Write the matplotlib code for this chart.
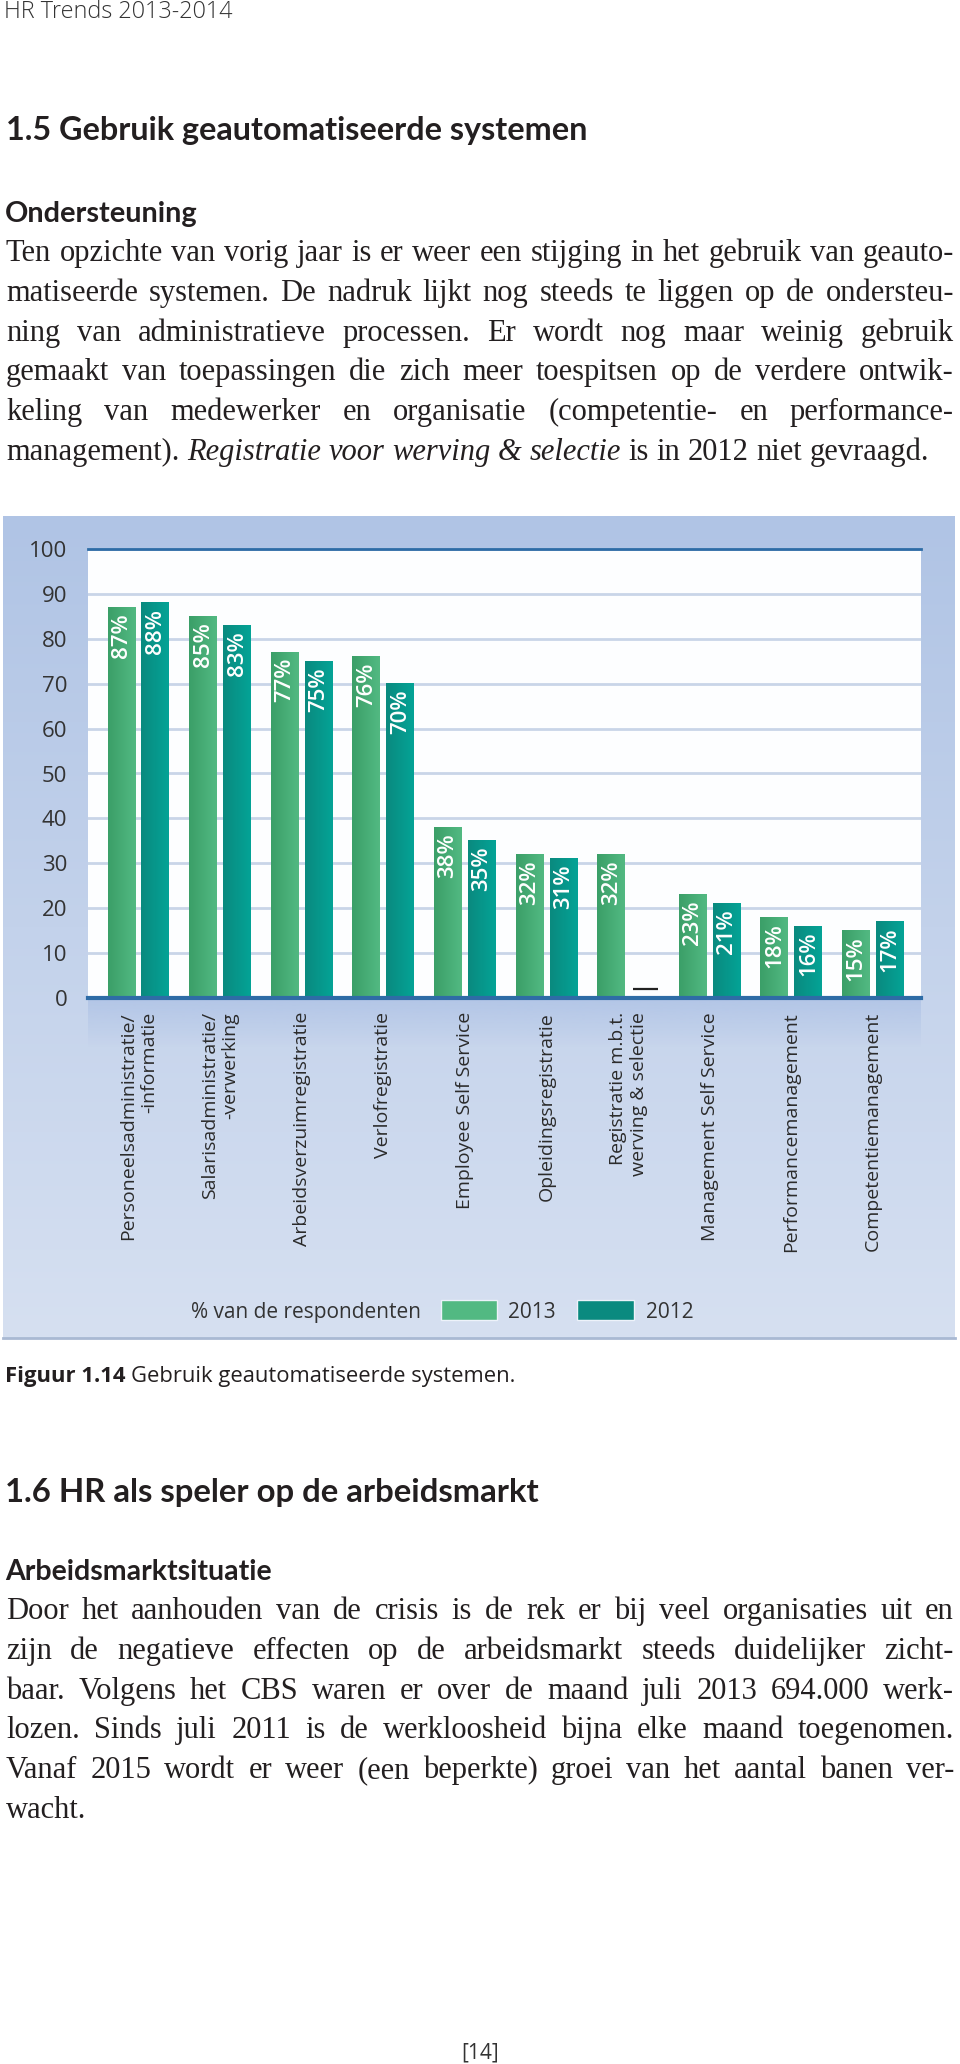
# Gebruik geautomatiseerde systemen - HR Trends 2013-2014, pagina 14
import numpy as np
import matplotlib.pyplot as plt
from matplotlib.colors import to_rgb
from matplotlib.patches import Rectangle

SANS = ['Open Sans', 'DejaVu Sans']
HEAD = ['Lato', 'Open Sans', 'DejaVu Sans']
SERIF = ['Liberation Serif', 'DejaVu Serif']
plt.rcParams['font.family'] = SANS

# ---- data ----
categories = ['Personeelsadministratie/\n-informatie',
              'Salarisadministratie/\n-verwerking',
              'Arbeidsverzuimregistratie',
              'Verlofregistratie',
              'Employee Self Service',
              'Opleidingsregistratie',
              'Registratie m.b.t.\nwerving & selectie',
              'Management Self Service',
              'Performancemanagement',
              'Competentiemanagement']
pct_2013 = [87, 85, 77, 76, 38, 32, 32, 23, 18, 15]
pct_2012 = [88, 83, 75, 70, 35, 31, np.nan, 21, 16, 17]
y_ticks = list(range(0, 101, 10))
years = ['2013', '2012']
legend_title = '% van de respondenten'

intro_lines = [
    'Ten opzichte van vorig jaar is er weer een stijging in het gebruik van geauto-',
    'matiseerde systemen. De nadruk lijkt nog steeds te liggen op de ondersteu-',
    'ning van administratieve processen. Er wordt nog maar weinig gebruik',
    'gemaakt van toepassingen die zich meer toespitsen op de verdere ontwik-',
    'keling van medewerker en organisatie (competentie- en performance-',
    'management). *Registratie voor werving & selectie* is in 2012 niet gevraagd.',
]
market_lines = [
    'Door het aanhouden van de crisis is de rek er bij veel organisaties uit en',
    'zijn de negatieve effecten op de arbeidsmarkt steeds duidelijker zicht-',
    'baar. Volgens het CBS waren er over de maand juli 2013 694.000 werk-',
    'lozen. Sinds juli 2011 is de werkloosheid bijna elke maand toegenomen.',
    'Vanaf 2015 wordt er weer (een beperkte) groei van het aantal banen ver-',
    'wacht.',
]

GREEN = ('#3b9f68', '#52b982')
TEAL = ('#0a8a7f', '#04a396')
INK = '#231f20'

W, H = 960, 2064
fig = plt.figure(figsize=(W / 100, H / 100), dpi=100)
fig.patch.set_facecolor('white')

# page axes in pixel units, y going down
page = fig.add_axes([0, 0, 1, 1], zorder=0)
page.axis('off')
renderer = fig.canvas.get_renderer()


def width_of(t):
    return t.get_window_extent(renderer).width


def space_of(size, family, style='normal', weight='normal'):
    a = page.text(0, 0, 'n n', fontsize=size, family=family, fontstyle=style, fontweight=weight)
    b = page.text(0, 0, 'nn', fontsize=size, family=family, fontstyle=style, fontweight=weight)
    sp = width_of(a) - width_of(b)
    a.remove()
    b.remove()
    return sp


def run(x, y, parts, size, fit=None, family=SANS, color=INK):
    """parts: list of (text, weight); placed one after another on a baseline"""
    arts = [page.text(x, y, s, fontsize=size, fontweight=wt, family=family,
                      color=color, va='baseline', ha='left') for s, wt in parts]
    if fit:
        sp = space_of(size, family) * (len(arts) - 1)
        total = sum(width_of(a) for a in arts) + sp
        size = size * fit / total
        for a in arts:
            a.set_fontsize(size)
    sp = space_of(size, family)
    cx = x
    for a in arts:
        a.set_x(cx)
        cx += width_of(a) + sp
    return arts


def words_of(line):
    out = []
    for i, seg in enumerate(line.split('*')):
        st = 'italic' if i % 2 else 'normal'
        out += [(w, st) for w in seg.split()]
    return out


def natural_width(line, size):
    sp = space_of(size, SERIF)
    ws = []
    for w, st in words_of(line):
        a = page.text(0, 0, w, fontsize=size, fontstyle=st, family=SERIF)
        ws.append(width_of(a))
        a.remove()
    return sum(ws) + sp * (len(ws) - 1)


def paragraph(lines, x0, x1, y0, step, size):
    sp = space_of(size, SERIF)
    for i, line in enumerate(lines):
        arts = [page.text(0, y0 + i * step, w, fontsize=size, fontstyle=st, family=SERIF,
                          color=INK, va='baseline', ha='left') for w, st in words_of(line)]
        widths = [width_of(a) for a in arts]
        last = i == len(lines) - 1
        gap = sp if last or len(arts) < 2 else (x1 - x0 - sum(widths)) / (len(arts) - 1)
        cx = x0
        for a, w in zip(arts, widths):
            a.set_x(cx)
            cx += w + gap


# body text size: largest size at which every line fits its measure
targets = [(ln, 948) for ln in intro_lines[:-1] + market_lines[:-1]] + [(intro_lines[-1], 925)]
body_size = min(19 * tw / natural_width(ln, 19) for ln, tw in targets)

# ---- text above the chart ----
run(4, 18, [('HR Trends 2013-2014', 'light')], 15, fit=229, color='#333333')
run(6, 140, [('1.5 Gebruik geautomatiseerde systemen', 'bold')], 24, fit=583, family=HEAD)
run(5, 222, [('Ondersteuning', 'bold')], 18, fit=193, family=HEAD)
paragraph(intro_lines, 6, 954, 261, 39.8, body_size)

# ---- chart panel ----
top_c, bot_c = np.array(to_rgb('#b0c4e5')), np.array(to_rgb('#d6e0f1'))
t = np.linspace(0, 1, 256)[:, None, None]
page.imshow(top_c + (bot_c - top_c) * t, extent=(3, 955, 1338, 516),
            aspect='auto', interpolation='bilinear', zorder=0)
band = np.zeros((64, 1, 4))
band[..., :3] = to_rgb('#b3c6e7')
band[..., 3] = np.linspace(1, 0, 64)[:, None]
page.imshow(band, extent=(88, 921, 1048, 998), aspect='auto',
            interpolation='bilinear', zorder=1)
page.plot([3, 955], [1338, 1338], color='#a9b9d3', lw=2, zorder=1)

ax = fig.add_axes([88 / W, 1 - 998 / H, 833 / W, 449 / H], zorder=2)
ax.set_facecolor('#fdfeff')

x = np.arange(len(categories))
bw = 0.343
off = 0.208
h2012 = np.array(pct_2012, dtype=float)

bars13 = ax.bar(x - off, pct_2013, bw, color=GREEN[1], zorder=2)
bars12 = ax.bar(x + off, np.nan_to_num(h2012), bw, color=TEAL[1], zorder=2)


def shade(bars, colors):
    c0, c1 = np.array(to_rgb(colors[0])), np.array(to_rgb(colors[1]))
    img = c0 + (c1 - c0) * np.linspace(0, 1, 32)[None, :, None]
    for b in bars:
        if b.get_height() <= 0:
            continue
        ax.imshow(img, extent=(b.get_x(), b.get_x() + b.get_width(), 0, b.get_height()),
                  aspect='auto', interpolation='bilinear', zorder=3)


shade(bars13, GREEN)
shade(bars12, TEAL)

for b, v in zip(bars13, pct_2013):
    ax.text(b.get_x() + b.get_width() / 2, v - 1.3, f'{v}%', rotation=90,
            ha='center', va='top', color='white', fontsize=16,
            fontweight='semibold', zorder=4)
for b, v in zip(bars12, h2012):
    xc = b.get_x() + b.get_width() / 2
    if np.isnan(v):
        # niet gevraagd in 2012
        ax.hlines(2, xc - bw * 0.45, xc + bw * 0.45, color='#222222', lw=1.6, zorder=4)
        continue
    ax.text(xc, v - 1.3, f'{int(v)}%', rotation=90, ha='center', va='top',
            color='white', fontsize=16, fontweight='semibold', zorder=4)

ax.set_xlim(-0.619, len(categories) - 1 + 0.588)
ax.set_ylim(0, 100)
ax.set_yticks(y_ticks)
ax.yaxis.grid(True, color='#c9d5e8', lw=2)
ax.set_axisbelow(True)
ax.axhline(100, color='#2e6ca6', lw=2, clip_on=False, zorder=5)
ax.axhline(0, color='#2e6ca6', lw=3, clip_on=False, zorder=5)
for s in ax.spines.values():
    s.set_visible(False)
ax.tick_params(axis='y', length=0, pad=15, labelsize=16, labelcolor='#333333')
ax.set_xticks(x, labels=categories, rotation=90, fontsize=14, color='#2b2b2b',
              ha='center', va='top', multialignment='right')
ax.tick_params(axis='x', length=0, pad=10)

# legend
page.text(421, 1318, legend_title, ha='right', va='baseline', fontsize=15, color='#333333')
page.add_patch(Rectangle((441, 1300), 56, 20, facecolor=GREEN[1], edgecolor='#edf2fa', lw=1, zorder=2))
page.text(508, 1318, years[0], ha='left', va='baseline', fontsize=15, color='#333333')
page.add_patch(Rectangle((577, 1300), 57, 20, facecolor=TEAL[0], edgecolor='#edf2fa', lw=1, zorder=2))
page.text(646, 1318, years[1], ha='left', va='baseline', fontsize=15, color='#333333')

# ---- text below the chart ----
run(5, 1382, [('Figuur 1.14', 'bold'), ('Gebruik geautomatiseerde systemen.', 'normal')], 14, fit=511)
run(5, 1502, [('1.6 HR als speler op de arbeidsmarkt', 'bold')], 24, fit=535, family=HEAD)
run(5, 1580, [('Arbeidsmarktsituatie', 'bold')], 18, fit=267, family=HEAD)
paragraph(market_lines, 6, 954, 1619, 39.8, body_size)
page.text(480, 2058, '[14]', ha='center', va='baseline', fontsize=15, color='#333333')

page.set_xlim(0, W)
page.set_ylim(H, 0)

plt.savefig('out.png', dpi=100)
